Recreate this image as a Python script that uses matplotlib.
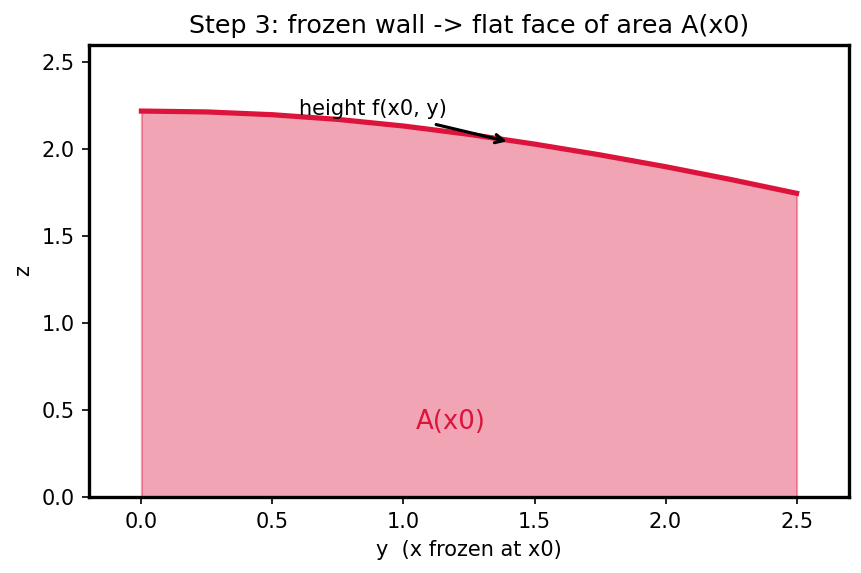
import numpy as np
import matplotlib.pyplot as plt

# y positions along the frozen wall, and the height f(x0, y)
y_vals = [0.0, 0.25, 0.5, 0.75, 1.0, 1.25, 1.5, 1.75, 2.0, 2.25, 2.5]
f_vals = [2.22, 2.215, 2.199, 2.172, 2.134, 2.086, 2.030, 1.968, 1.900, 1.826, 1.747]

y = np.array(y_vals)
f = np.array(f_vals)

fig = plt.figure(figsize=(8.62 / 1.5, 5.73 / 1.5), dpi=150)
ax = fig.add_axes([89 / 862, 1 - 497 / 573, (849 - 89) / 862, (497 - 45) / 573])

ax.fill_between(y, 0, f, color='crimson', alpha=0.38)
ax.plot(y, f, color='crimson', lw=2.5)

ax.annotate('height f(x0, y)', xy=(1.41, 2.04), xytext=(0.6, 2.195),
            arrowprops=dict(arrowstyle='->', color='black', lw=1.5))
ax.text(1.18, 0.43, 'A(x0)', color='crimson', fontsize=12.5, ha='center', va='center')

ax.set_xlim(-0.2, 2.7)
ax.set_ylim(0, 2.6)
ax.set_xlabel('y  (x frozen at x0)')
ax.set_ylabel('z')
ax.set_title('Step 3: frozen wall -> flat face of area A(x0)', fontsize=12.2)
for s in ax.spines.values():
    s.set_linewidth(1.6)

plt.savefig('out.png', dpi=150)
